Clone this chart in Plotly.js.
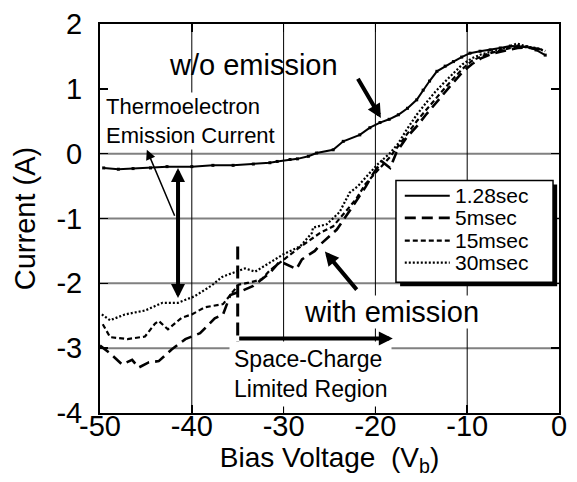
<!DOCTYPE html>
<html>
<head>
<meta charset="utf-8">
<script src="https://cdn.plot.ly/plotly-3.0.1.min.js"></script>
<style>html,body{margin:0;padding:0;background:#fff;}#chart{width:577px;height:482px;}</style>
</head>
<body>
<div id="chart"></div>
<script>
// ---- data ----
const seriesNames = ["1.28sec", "5msec", "15msec", "30msec"];

const v128 = [-49.6,-48,-46.4,-44.5,-42.7,-40,-37.7,-35.5,-33.3,-31.5,-30.7,-29.3,-28.5,-27.3,-26.4,-24.6,-23.5,-21.7,-20.6,-19.5,-18.5,-17.5,-16.5,-15.5,-14.8,-14.1,-13.3,-12.4,-11.5,-10.6,-9.7,-8.6,-7.5,-6.4,-5.3,-4.4,-3.5,-2.5,-1.5];
const i128 = [-0.22,-0.24,-0.23,-0.22,-0.2,-0.2,-0.18,-0.18,-0.16,-0.14,-0.12,-0.09,-0.08,-0.04,0.01,0.06,0.19,0.29,0.4,0.48,0.53,0.6,0.7,0.83,0.98,1.12,1.27,1.35,1.42,1.49,1.55,1.58,1.6,1.63,1.66,1.66,1.65,1.6,1.52];

const v5 = [-50,-48.9,-47.6,-46.5,-45.8,-44.7,-43.6,-42.2,-40.7,-39.1,-37.5,-36.6,-35.8,-34.6,-33.3,-31.5,-30.4,-28.6,-28,-26.6,-26,-24.2,-22.8,-21.1,-20.2,-19.3,-18.4,-17.7,-16.6,-15.5,-14.5,-13.5,-12.5,-11.5,-10.5,-9.5,-8.5,-7.5,-6.5,-5.5,-4.5,-3.5,-2.5,-1.5];
const i5 = [-2.96,-3.08,-3.25,-3.18,-3.3,-3.22,-3.2,-3.02,-2.86,-2.77,-2.54,-2.48,-2.18,-2.12,-2.04,-1.84,-1.66,-1.78,-1.63,-1.5,-1.4,-1.17,-0.88,-0.52,-0.3,-0.12,-0.22,0.02,0.25,0.42,0.6,0.77,0.94,1.1,1.26,1.38,1.47,1.53,1.57,1.6,1.63,1.64,1.62,1.6];

const v15 = [-49.7,-48.9,-47,-45.1,-44,-43.6,-42.6,-41.1,-40,-38.6,-36.6,-35.6,-34.9,-33.8,-32.4,-31.5,-30,-29,-28.3,-27.3,-26,-24.6,-23.1,-22.1,-21.1,-20.2,-19.5,-18.4,-17.5,-16.6,-15.5,-14.5,-13.5,-12.5,-11.5,-10.5,-9.5,-8.5,-7.5,-6.5,-5.5,-4.5,-3.5,-2.5,-1.5];
const i15 = [-2.63,-2.83,-2.86,-2.82,-2.62,-2.58,-2.71,-2.53,-2.48,-2.37,-2.32,-2.14,-2.02,-1.99,-1.94,-1.8,-1.63,-1.52,-1.45,-1.35,-1.22,-1.12,-0.86,-0.7,-0.47,-0.32,-0.22,-0.05,0.12,0.3,0.5,0.67,0.84,1.0,1.16,1.31,1.43,1.5,1.55,1.59,1.62,1.66,1.64,1.62,1.6];

const v30 = [-49.8,-48.9,-47.3,-45.1,-43.2,-41.5,-39.7,-37.8,-36.7,-35.3,-34.2,-33.1,-31.8,-30,-28.2,-26.9,-26.8,-25.3,-23.9,-22.8,-21.9,-20.9,-19.8,-18.4,-17.5,-16.6,-15.5,-14.5,-13.5,-12.5,-11.5,-10.5,-9.5,-8.5,-7.5,-6.5,-5.5,-4.6,-3.5,-2.5,-1.5];
const i30 = [-2.48,-2.57,-2.48,-2.42,-2.3,-2.3,-2.2,-2.03,-1.9,-1.83,-1.77,-1.82,-1.71,-1.55,-1.43,-1.22,-1.14,-1.09,-0.9,-0.6,-0.5,-0.35,-0.17,0.01,0.16,0.37,0.6,0.78,0.95,1.1,1.24,1.38,1.47,1.53,1.57,1.6,1.64,1.7,1.65,1.63,1.58];

const xTickVals = [-50,-40,-30,-20,-10,0];
const xTickText = ["-50","-40","-30","-20","-10","0"];
const yTickVals = [2,1,0,-1,-2,-3,-4];
const yTickText = ["2","1","0","-1","-2","-3","-4"];
const hGridVals = [0,-1,-2,-3];
const vGridVals = [-40,-30,-20,-10];

// ---- styles ----
const FONT = "Liberation Sans, Arial, Helvetica, sans-serif";
const styles = [
  {dash: "solid", width: 2},
  {dash: "11px,6px", width: 2.6},
  {dash: "5px,3px", width: 2.2},
  {dash: "2px,2px", width: 2.2}
];
const xs = [v128, v5, v15, v30];
const ys = [i128, i5, i15, i30];

const traces = xs.map((x, k) => ({
  x: x, y: ys[k], name: seriesNames[k], type: "scatter",
  mode: k === 0 ? "lines+markers" : "lines",
  line: {color: "#000", dash: styles[k].dash, width: styles[k].width},
  marker: {symbol: "square", size: 3, color: "#000"},
  showlegend: false
}));

const shapes = [];
hGridVals.forEach(v => shapes.push({type: "line", layer: "below", xref: "paper", x0: 0, x1: 1, yref: "y", y0: v, y1: v, line: {color: "#808080", width: 2}}));
vGridVals.forEach(v => shapes.push({type: "line", layer: "below", yref: "paper", y0: 0, y1: 1, xref: "x", x0: v, x1: v, line: {color: "#000", width: 1}}));

// space-charge boundary (dashed vertical)
shapes.push({type: "line", layer: "above", xref: "x", yref: "y", x0: -35, x1: -35, y0: -1.43, y1: -3.2, line: {color: "#000", width: 3, dash: "13px,6px"}});

// legend box (drawn by hand to match the shadowed frame)
const legX0 = -17.76, legX1 = -0.65, legY0 = -0.415, legY1 = -1.985;
shapes.push({type: "rect", layer: "above", xref: "x", yref: "y", x0: legX0 + 0.45, x1: legX1 + 0.45, y0: legY0 - 0.06, y1: legY1 - 0.06, fillcolor: "#000", line: {width: 0}});
shapes.push({type: "rect", layer: "above", xref: "x", yref: "y", x0: legX0, x1: legX1, y0: legY0, y1: legY1, fillcolor: "#fff", line: {color: "#000", width: 1.5}});
const legRows = [-0.65, -0.99, -1.34, -1.68];
const annotations = [];
seriesNames.forEach((nm, k) => {
  shapes.push({type: "line", layer: "above", xref: "x", yref: "y", x0: -16.8, x1: -11.9, y0: legRows[k], y1: legRows[k], line: {color: "#000", width: styles[k].width, dash: styles[k].dash}});
  annotations.push({xref: "x", yref: "y", x: -11.4, y: legRows[k], text: nm, showarrow: false, xanchor: "left", yanchor: "middle", borderpad: 0, font: {family: FONT, size: 21, color: "#000"}});
});

// text labels
annotations.push({xref: "x", yref: "y", x: -33.3, y: 1.36, text: "w/o emission", showarrow: false, xanchor: "center", yanchor: "middle", font: {family: FONT, size: 29, color: "#000"}});
annotations.push({xref: "x", yref: "y", x: -18.3, y: -2.44, text: "with emission", showarrow: false, xanchor: "center", yanchor: "middle", bgcolor: "#fff", borderpad: 0, font: {family: FONT, size: 29, color: "#000"}});
annotations.push({xref: "x", yref: "y", x: -49.6, y: 0.5, text: "Thermoelectron<br>Emission Current", showarrow: false, xanchor: "left", yanchor: "middle", align: "left", bgcolor: "#fff", font: {family: FONT, size: 22, color: "#000"}});
annotations.push({xref: "x", yref: "y", x: -36.0, y: -3.4, text: "Space-Charge<br>Limited Region", showarrow: false, xanchor: "left", yanchor: "middle", align: "left", bgcolor: "#fff", borderpad: 4, font: {family: FONT, size: 23, color: "#000"}});

// arrows
const arrow = (x, y, ax, ay, w, head, size, extra) => Object.assign({xref: "x", yref: "y", axref: "x", ayref: "y", x: x, y: y, ax: ax, ay: ay, text: "", showarrow: true, arrowhead: head, arrowsize: size, arrowwidth: w, arrowcolor: "#000", standoff: 0}, extra || {});
annotations.push(arrow(-19.4, 0.55, -22.0, 1.18, 4, 2, 0.7));
annotations.push(arrow(-25.5, -1.51, -21.9, -2.12, 4, 2, 0.7));
annotations.push(arrow(-18.1, -2.85, -35.0, -2.85, 4, 2, 0.7));
annotations.push(arrow(-44.9, 0.06, -41.8, -0.98, 1.5, 2, 1.3));
annotations.push(arrow(-41.5, -0.22, -41.5, -2.25, 4, 2, 0.7, {arrowside: "end+start", startarrowhead: 2, startarrowsize: 0.7}));

const layout = {
  width: 577, height: 482,
  margin: {l: 100, r: 18, t: 24, b: 69},
  paper_bgcolor: "#fff", plot_bgcolor: "#fff",
  font: {family: FONT, color: "#000"},
  showlegend: false,
  xaxis: {
    range: [-50, 0], tickvals: xTickVals, ticktext: xTickText,
    showgrid: false, zeroline: false, showline: true, linecolor: "#000", linewidth: 2, mirror: "ticks",
    ticks: "inside", ticklen: 8, tickwidth: 1.5, tickcolor: "#000",
    tickfont: {family: FONT, size: 29, color: "#000"}, ticklabelstandoff: -14,
    title: {text: "Bias Voltage&nbsp; (V<sub>b</sub>)", font: {family: FONT, size: 28, color: "#000"}, standoff: 6}
  },
  yaxis: {
    range: [-4, 2], tickvals: yTickVals, ticktext: yTickText,
    showgrid: false, zeroline: false, showline: true, linecolor: "#000", linewidth: 2, mirror: "ticks",
    ticks: "inside", ticklen: 8, tickwidth: 1.5, tickcolor: "#000",
    tickfont: {family: FONT, size: 29, color: "#000"}, ticklabelstandoff: 10,
    title: {text: "Current (A)", font: {family: FONT, size: 29, color: "#000"}, standoff: 12}
  },
  shapes: shapes,
  annotations: annotations
};

Plotly.newPlot("chart", traces, layout, {staticPlot: true, displayModeBar: false});
</script>
</body>
</html>
